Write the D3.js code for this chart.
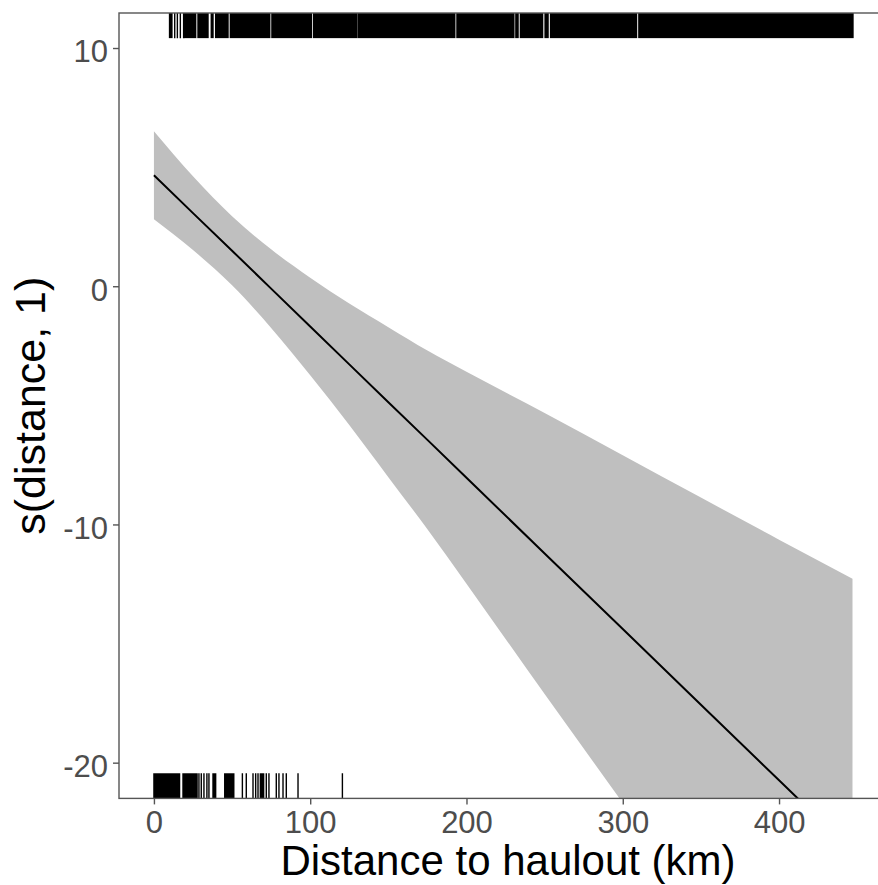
<!DOCTYPE html>
<html>
<head>
<meta charset="utf-8">
<script src="https://cdn.jsdelivr.net/npm/d3@7"></script>
<style>
  body { margin: 0; background: #fff; }
  text { font-family: Arial, "Liberation Sans", sans-serif; }
</style>
</head>
<body>
<div id="chart"></div>
<script>
// smooth term: distance (km), fit, upper / lower CI
const distance = [0, 25, 50, 75, 100, 125, 150, 175, 200, 250, 300, 350, 400, 447];
const fit   = [4.66, 3.07, 1.49, -0.10, -1.69, -3.28, -4.87, -6.45, -8.04, -11.22, -14.39, -17.57, -20.74, -23.72];
const upper = [6.51, 4.62, 2.94, 1.55, 0.36, -0.73, -1.72, -2.70, -3.59, -5.32, -7.09, -8.87, -10.64, -12.28];
const lower = [2.81, 1.52, 0.04, -1.75, -3.74, -5.83, -8.02, -10.20, -12.49, -17.12, -21.69, -26.27, -30.84, -35.16];

// rug on top: single ticks and stretches that are solid black
const topRugTicks = [13.3, 15.0, 16.9, 19.0];
const topRugRuns = [[10.0, 11.5], [19.7, 26.7], [28.2, 34.6], [36.7, 37.8], [39.5, 47.4], [48.9, 74.1],
  [75.5, 100.8], [102.2, 129.6], [130.6, 192.5], [193.9, 230.3], [231.6, 233.0], [234.5, 248.7],
  [250.3, 252.2], [253.8, 308.8], [310.3, 447.3]];

// rug at the bottom
const bottomRugTicks = [28.8, 30.3, 32.0, 33.9, 35.2, 56.6, 59.1, 63.4, 65.1, 66.6, 71.9, 73.6,
  78.3, 80.0, 82.6, 84.7, 92.2, 120.6];
const bottomRugRuns = [[0, 16.4], [18.6, 27.6], [37.8, 39.5], [45.3, 51.1], [68.1, 70.2]];

const xTicks = [0, 100, 200, 300, 400];
const yTicks = [10, 0, -10, -20];

const width = 878;
const height = 885;
const panel = { left: 119, top: 13, right: 887.5, bottom: 798.4 };

const data = distance.map((d, i) => ({ d: d, fit: fit[i], lo: lower[i], hi: upper[i] }));

const xScale = d3.scaleLinear()
  .domain([-22.35, 469.4])
  .range([panel.left, panel.right]);

const yScale = d3.scaleLinear()
  .domain([-21.5, 11.47])
  .range([panel.bottom, panel.top]);

const svg = d3.select("#chart")
  .append("svg")
  .attr("width", width)
  .attr("height", height);

svg.append("clipPath")
  .attr("id", "clip")
  .append("rect")
  .attr("x", panel.left)
  .attr("y", panel.top)
  .attr("width", panel.right - panel.left)
  .attr("height", panel.bottom - panel.top);

const plot = svg.append("g").attr("clip-path", "url(#clip)");

// confidence band
plot.append("path")
  .datum(data)
  .attr("fill", "#bfbfbf")
  .attr("d", d3.area()
    .x(d => xScale(d.d))
    .y0(d => yScale(d.lo))
    .y1(d => yScale(d.hi))
    .curve(d3.curveMonotoneX));

// fitted line
plot.append("path")
  .datum(data)
  .attr("fill", "none")
  .attr("stroke", "#000")
  .attr("stroke-width", 2)
  .attr("d", d3.line()
    .x(d => xScale(d.d))
    .y(d => yScale(d.fit)));

// rugs, ~3% of panel height
const rugLen = (panel.bottom - panel.top) * 0.032;

function drawRug(ticks, runs, y0, cls) {
  plot.selectAll("line." + cls)
    .data(ticks)
    .join("line")
    .attr("class", cls)
    .attr("x1", d => xScale(d))
    .attr("x2", d => xScale(d))
    .attr("y1", y0)
    .attr("y2", y0 + rugLen)
    .attr("stroke", "#000")
    .attr("stroke-width", 1.4);

  plot.selectAll("rect." + cls)
    .data(runs)
    .join("rect")
    .attr("class", cls)
    .attr("x", d => xScale(d[0]) - 0.7)
    .attr("width", d => xScale(d[1]) - xScale(d[0]) + 1.4)
    .attr("y", y0)
    .attr("height", rugLen)
    .attr("fill", "#000");
}
drawRug(topRugTicks, topRugRuns, panel.top, "rugTop");
drawRug(bottomRugTicks, bottomRugRuns, panel.bottom - rugLen, "rugBottom");

// panel border (right side is off the picture)
svg.append("rect")
  .attr("x", panel.left)
  .attr("y", panel.top)
  .attr("width", panel.right - panel.left)
  .attr("height", panel.bottom - panel.top)
  .attr("fill", "none")
  .attr("stroke", "#555")
  .attr("stroke-width", 1.4);

// plain hyphen for negatives, like the original
const fmt = d => String(d);

// x axis
const xAxis = svg.append("g")
  .attr("transform", `translate(0,${panel.bottom})`)
  .call(d3.axisBottom(xScale).tickValues(xTicks).tickSize(6).tickPadding(7).tickFormat(fmt));
xAxis.select(".domain").remove();
xAxis.selectAll("line").attr("stroke", "#555").attr("stroke-width", 1.4);
xAxis.selectAll("text")
  .attr("font-size", 31)
  .attr("fill", "#4d4d4d")
  .attr("font-family", "Arial, 'Liberation Sans', sans-serif");

// y axis
const yAxis = svg.append("g")
  .attr("transform", `translate(${panel.left},0)`)
  .call(d3.axisLeft(yScale).tickValues(yTicks).tickSize(6).tickPadding(5).tickFormat(fmt));
yAxis.select(".domain").remove();
yAxis.selectAll("line").attr("stroke", "#555").attr("stroke-width", 1.4);
yAxis.selectAll("text")
  .attr("font-size", 31)
  .attr("fill", "#4d4d4d")
  .attr("dy", "0.45em")
  .attr("font-family", "Arial, 'Liberation Sans', sans-serif");

// axis titles
svg.append("text")
  .attr("x", 508)
  .attr("y", 875)
  .attr("text-anchor", "middle")
  .attr("font-size", 42)
  .attr("fill", "#000")
  .text("Distance to haulout (km)");

svg.append("text")
  .attr("transform", `translate(45,${(panel.top + panel.bottom) / 2}) rotate(-90)`)
  .attr("text-anchor", "middle")
  .attr("font-size", 43)
  .attr("fill", "#000")
  .text("s(distance, 1)");
</script>
</body>
</html>
